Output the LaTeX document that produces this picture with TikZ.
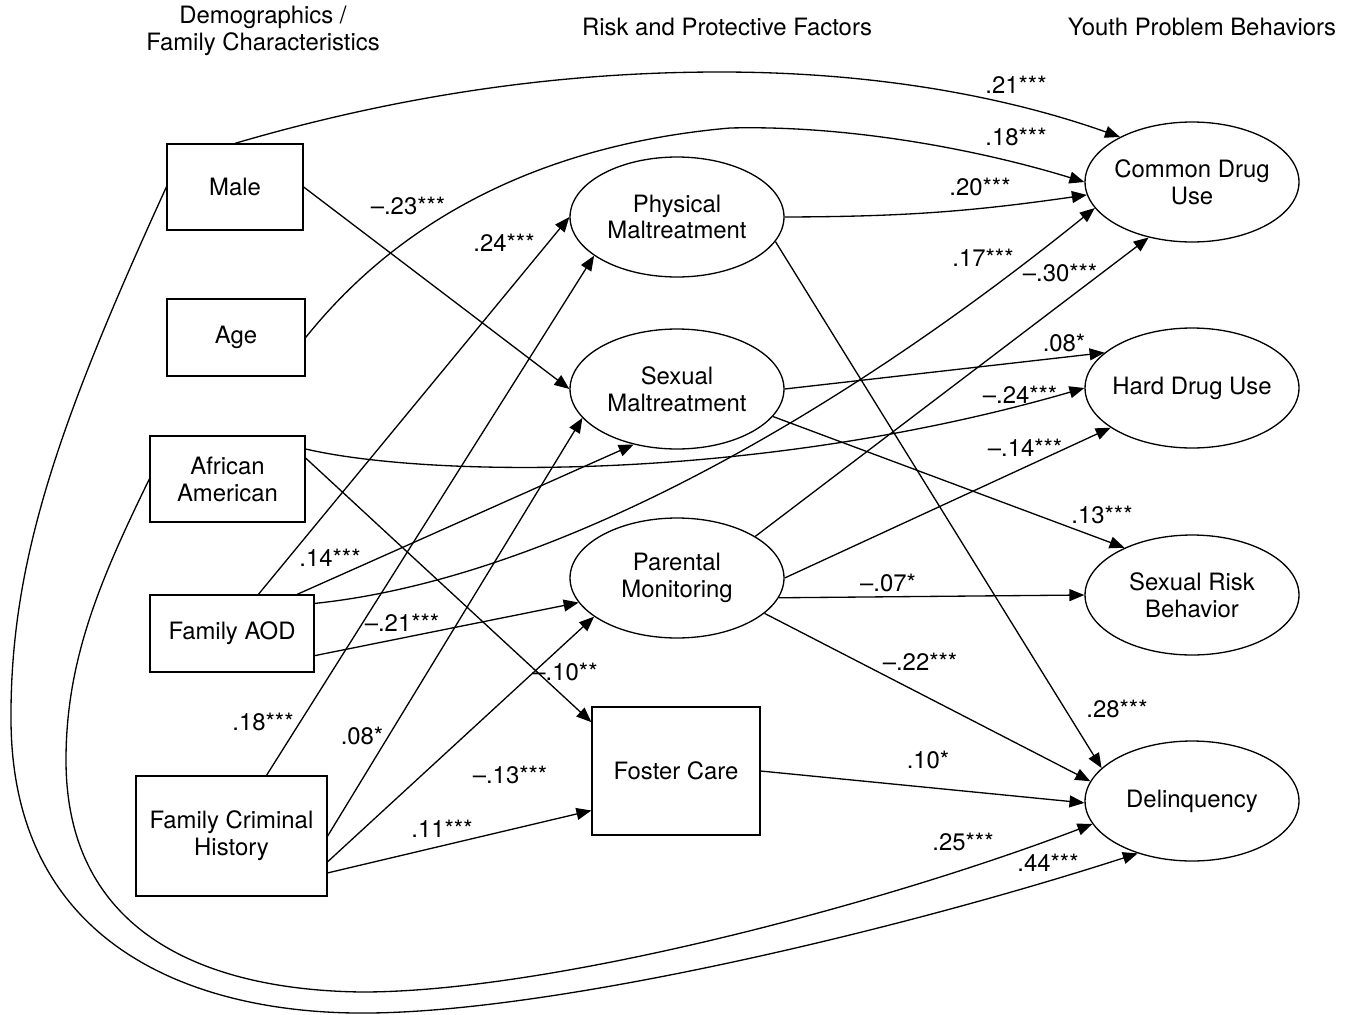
\documentclass[tikz,border=0pt]{standalone}
\usepackage{fontspec}
\setmainfont{TeX Gyre Heros}
\usetikzlibrary{arrows.meta,shapes.geometric}
\begin{document}
\begin{tikzpicture}[x=0.02cm,y=-0.02cm,
  every node/.style={font=\fontsize{13.6}{15.3}\selectfont},
  box/.style={draw,line width=0.75pt,rectangle,inner sep=0pt,align=center},
  oval/.style={draw,line width=0.75pt,ellipse,inner ysep=0pt,inner xsep=-0.3cm,minimum width=4.28cm,minimum height=2.4cm,align=center},
  lab/.style={inner sep=0pt},
  hdr/.style={inner sep=0pt,align=center},
  conn/.style={line width=0.75pt,-{Triangle[length=8.5pt,width=6.8pt]}}]
\useasboundingbox (0,0) rectangle (1355,1014);

% headers
\node[hdr] (h1) at (263,31) {Demographics /\\Family Characteristics};
\node[hdr] (h2) at (727,27) {Risk and Protective Factors};
\node[hdr] (h3) at (1202,27) {Youth Problem Behaviors};

% boxes
\node[box,minimum width=2.72cm,minimum height=1.72cm] (male) at (235,187) {Male};
\node[box,minimum width=2.76cm,minimum height=1.54cm] (age) at (236,337.5) {Age};
\node[box,minimum width=3.1cm,minimum height=1.72cm] (aa) at (227.5,479) {African\\American};
\node[box,minimum width=3.28cm,minimum height=1.54cm] (faod) at (232,633.5) {Family AOD};
\node[box,minimum width=3.82cm,minimum height=2.4cm] (fch) at (231.5,836) {Family Criminal\\History};
\node[box,minimum width=3.36cm,minimum height=2.56cm] (fc) at (676,771) {Foster Care};

% ellipses
\node[oval] (pm) at (677,217) {Physical\\Maltreatment};
\node[oval] (sm) at (677,389) {Sexual\\Maltreatment};
\node[oval] (pmon) at (677,578) {Parental\\Monitoring};
\node[oval] (cdu) at (1192,182) {Common Drug\\Use};
\node[oval] (hdu) at (1192,388) {Hard Drug Use};
\node[oval] (srb) at (1192,595) {Sexual Risk\\Behavior};
\node[oval] (del) at (1192,801) {Delinquency};

% connectors into Common Drug Use
\draw[conn] (male.north) .. controls (400,95) and (560,72) .. (720,72) .. controls (900,72) and (1030,105) .. (cdu.148);
\draw[conn] (age.east) .. controls (360,270) and (480,150) .. (730,128) .. controls (850,125) and (980,150) .. (cdu.west);
\draw[conn] (pm.east) to[bend right=4] (cdu.187);
\draw[conn] (faod.20) .. controls (540,580) and (820,430) .. (cdu.195);
\draw[conn] (pmon.28) -- (cdu.232);

% into Hard Drug Use
\draw[conn] (sm.east) -- (hdu.158);
\draw[conn] (aa.21) .. controls (430,478) and (760,482) .. (hdu.west);
\draw[conn] (pmon.east) -- (hdu.206);

% into Sexual Risk Behavior
\draw[conn] (sm.344) -- (srb.145);
\draw[conn] (pmon.349) -- (srb.west);

% into Delinquency
\draw[conn] (pmon.338) -- (del.169);
\draw[conn] (pm.346) -- (del.160);
\draw[conn] (fc.east) -- (del.181);
\draw[conn] (male.west) .. controls (60,420) and (10,560) .. (11,720) .. controls (12,950) and (200,1015) .. (370,1013) .. controls (560,1011) and (900,930) .. (del.224);
\draw[conn] (aa.west) .. controls (100,580) and (66,660) .. (66,760) .. controls (66,930) and (200,990) .. (362,992) .. controls (550,992) and (880,905) .. (del.193);

% into mediators
\draw[conn] (male.east) -- (sm.west);
\draw[conn] (faod.56) -- (pm.west);
\draw[conn] (fch.60) -- (pm.205);
\draw[conn] (faod.31) -- (sm.232);
\draw[conn] (fch.east) -- (sm.197);
\draw[conn] (faod.345) -- (pmon.194);
\draw[conn] (fch.345) -- (pmon.205);
\draw[conn] (aa.15) -- (fc.150);
\draw[conn] (fch.339) -- (fc.205);

% labels
\node[lab] (l1) at (1016,85) {.21***};
\node[lab] (l2) at (1016,137) {.18***};
\node[lab] (l3) at (980,187) {.20***};
\node[lab] (l4) at (983,258) {.17***};
\node[lab] (l5) at (1060,273) {--.30***};
\node[lab] (l6) at (1064,343) {.08*};
\node[lab] (l7) at (1020,395) {--.24***};
\node[lab] (l8) at (1025,448) {--.14***};
\node[lab] (l9) at (1102,515) {.13***};
\node[lab] (l10) at (888,583) {--.07*};
\node[lab] (l11) at (920,662) {--.22***};
\node[lab] (l12) at (1117,709) {.28***};
\node[lab] (l13) at (928,760) {.10*};
\node[lab] (l14) at (963,842) {.25***};
\node[lab] (l15) at (1048,863) {.44***};
\node[lab] (l16) at (408,206) {--.23***};
\node[lab] (l17) at (504,243) {.24***};
\node[lab] (l18) at (330,558) {.14***};
\node[lab] (l19) at (402,623) {--.21***};
\node[lab] (l20) at (565,672) {--.10**};
\node[lab] (l21) at (263,722) {.18***};
\node[lab] (l22) at (362,736) {.08*};
\node[lab] (l23) at (510,775) {--.13***};
\node[lab] (l24) at (442,829) {.11***};
\end{tikzpicture}
\end{document}
